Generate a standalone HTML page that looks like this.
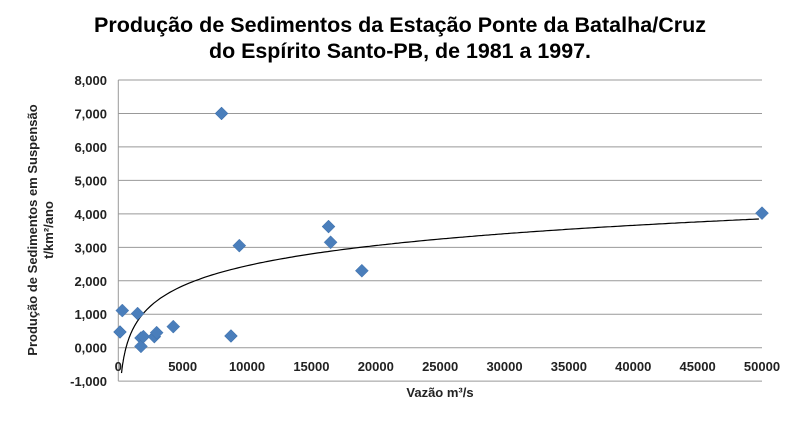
<!DOCTYPE html>
<html><head><meta charset="utf-8"><style>
html,body{margin:0;padding:0;background:#fff;}
svg{display:block;font-family:"Liberation Sans",Arial,sans-serif;}
</style></head><body>
<svg id="chart" width="800" height="422" viewBox="0 0 800 422">
<g font-weight="bold" font-size="21" fill="#000" text-anchor="middle">
<text x="400" y="32" textLength="612" lengthAdjust="spacingAndGlyphs">Produção de Sedimentos da Estação Ponte da Batalha/Cruz</text>
<text x="400" y="58" textLength="382" lengthAdjust="spacingAndGlyphs">do Espírito Santo-PB, de 1981 a 1997.</text>
</g>
<g id="grid"></g>
<g id="yticks" font-weight="bold" font-size="13" fill="#222" text-anchor="end"></g>
<g id="xticks" font-weight="bold" font-size="13" fill="#222" text-anchor="middle"></g>
<path id="trend" fill="none" stroke="#000" stroke-width="1.2"></path>
<g id="points"></g>
<text x="440" y="397" font-weight="bold" font-size="13" text-anchor="middle" fill="#222">Vazão m³/s</text>
<g font-weight="bold" font-size="13" fill="#222" text-anchor="middle" transform="translate(37,230) rotate(-90)">
<text x="0" y="0">Produção de Sedimentos em Suspensão</text>
<text x="0" y="16">t/km²/ano</text>
</g>
</svg>
<script>
const yTickValues=[8000,7000,6000,5000,4000,3000,2000,1000,0,-1000];
const yTickLabels=["8,000","7,000","6,000","5,000","4,000","3,000","2,000","1,000","0,000","-1,000"];
const xTickValues=[0,5000,10000,15000,20000,25000,30000,35000,40000,45000,50000];
const xTickLabels=["0","5000","10000","15000","20000","25000","30000","35000","40000","45000","50000"];
const flowX=[130,310,1500,1760,1760,1950,2800,2980,4270,8020,8750,9400,16330,16490,18920,50000];
const sedimentY=[470,1110,1020,290,40,330,330,450,630,7000,350,3050,3620,3150,2300,4020];
const trendA=870, trendB=-5563;

const X0=118.3, X1=762, Y8=80, Y0=347.7;
function sx(v){return X0+(v-0)/50000*(X1-X0);}
function sy(v){return Y0-(v/8000)*(Y0-Y8);}
const NS="http://www.w3.org/2000/svg";
const grid=document.getElementById('grid'),yt=document.getElementById('yticks'),xt=document.getElementById('xticks');
yTickValues.forEach((v,i)=>{
  const l=document.createElementNS(NS,'line');
  
  
  l.setAttribute('x1',X0);l.setAttribute('x2',X1);
  l.setAttribute('y1',sy(v));l.setAttribute('y2',sy(v));
  l.setAttribute('stroke','#999');l.setAttribute('stroke-width','1');
  grid.appendChild(l);
  const t=document.createElementNS(NS,'text');
  
  
  t.setAttribute('x',107);t.setAttribute('y',sy(v)+5);
  t.textContent=yTickLabels[i];yt.appendChild(t);
});
const ax=document.createElementNS(NS,'line');


ax.setAttribute('x1',X0);ax.setAttribute('x2',X0);ax.setAttribute('y1',sy(8000));ax.setAttribute('y2',sy(-1000));
ax.setAttribute('stroke','#999');grid.appendChild(ax);
xTickValues.forEach((v,i)=>{
  const t=document.createElementNS(NS,'text');
  
  
  t.setAttribute('x',sx(v));t.setAttribute('y',371);
  t.textContent=xTickLabels[i];xt.appendChild(t);
});
let d='';
for(let x=250;x<=50000;x+=(x<2000?20:250)){
  const y=trendA*Math.log(x)+trendB;
  d+=(d?'L':'M')+sx(x).toFixed(1)+','+sy(y).toFixed(1);
}
document.getElementById('trend').setAttribute('d',d);
const pts=document.getElementById('points');
flowX.forEach((x,i)=>{
  const cx=sx(x),cy=sy(sedimentY[i]),r=6.5;
  const p=document.createElementNS(NS,'polygon');
  
  
  p.setAttribute('points',`${cx},${cy-r} ${cx+r},${cy} ${cx},${cy+r} ${cx-r},${cy}`);
  p.setAttribute('fill','#4a7ebb');p.setAttribute('stroke','#3f6fa8');p.setAttribute('stroke-width','0.5');
  pts.appendChild(p);
});
</script>
</body></html>
